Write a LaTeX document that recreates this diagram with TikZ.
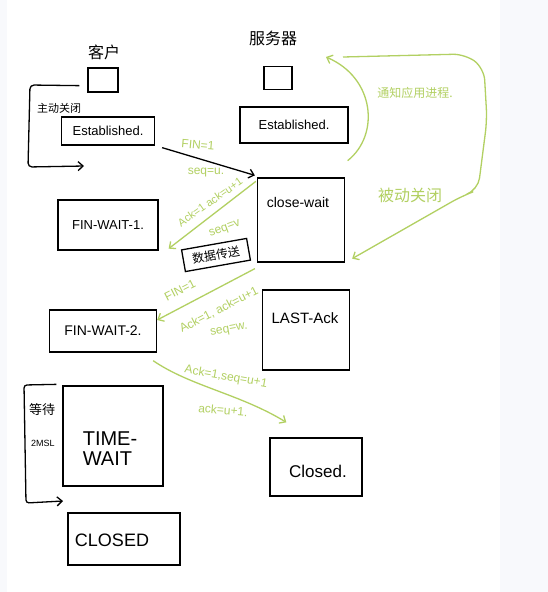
\documentclass[tikz,border=0pt]{standalone}
\usepackage{fontspec}
\setmainfont{Liberation Sans}
\newfontfamily\cjk{Noto Sans CJK SC}
\usetikzlibrary{arrows.meta}
\definecolor{gr}{RGB}{178,208,98}
\definecolor{bgc}{RGB}{248,249,252}
\begin{document}
\begin{tikzpicture}[x=1pt,y=-1pt,
  box/.style={draw=black, line width=1.3pt, inner sep=0pt},
  gline/.style={draw=gr, line width=1.3pt},
  bline/.style={draw=black, line width=1.3pt},
  tip/.style={-{Straight Barb[length=5pt,width=9pt]}},
  glab/.style={text=gr, inner sep=0pt, font=\fontsize{12}{12}\selectfont},
  blab/.style={text=black, inner sep=0pt},
  fs/.style={font=\fontsize{#1}{#1}\selectfont}
]
\useasboundingbox (0,0) rectangle (548,592);
\fill[bgc] (0,0) rectangle (548,592);
\fill[white] (7,0) rectangle (500,592);

% titles
\node[blab, font=\cjk\fontsize{16}{16}\selectfont] (kh) at (104,52) {客户};
\node[blab, font=\cjk\fontsize{16}{16}\selectfont] (fwq) at (273,38) {服务器};

% boxes
\node[box, minimum width=30pt, minimum height=24pt] (cli) at (103,80) {};
\node[box, minimum width=28pt, minimum height=23pt] (srv) at (278,78) {};
\node[box, minimum width=93pt, minimum height=28pt, fs=13] (est1) at (108,131) {Established.};
\node[box, minimum width=108pt, minimum height=36pt, fs=13] (est2) at (294,125) {Established.};
\node[box, minimum width=87pt, minimum height=84pt] (cw) at (301,220) {};
\node[blab, fs=14] (cwt) at (298,202) {close-wait};
\node[box, minimum width=100pt, minimum height=50pt, fs=13] (fw1) at (108,225) {FIN-WAIT-1.};
\node[box, rotate=10, minimum width=66pt, minimum height=22pt, font=\cjk\fontsize{12}{12}\selectfont] (dt) at (216,255) {数据传送};
\node[box, minimum width=87pt, minimum height=80pt] (la) at (306,330) {};
\node[blab, fs=15] (lat) at (305,318) {LAST-Ack};
\node[box, minimum width=107pt, minimum height=42pt, fs=14] (fw2) at (103,331) {FIN-WAIT-2.};
\node[box, minimum width=100pt, minimum height=100pt] (tw) at (113,436) {};
\node[blab, fs=20, align=left] (twt) at (110,449) {TIME-\\WAIT};
\node[box, minimum width=92pt, minimum height=58pt] (cl2) at (316,467) {};
\node[blab, fs=17] (cl2t) at (318,471) {Closed.};
\node[box, minimum width=112pt, minimum height=52pt] (cl1) at (124,539) {};
\node[blab, fs=18] (cl1t) at (112,540) {CLOSED};

% left loops
\node[blab, font=\cjk\fontsize{11}{11}\selectfont] (zd) at (59,108) {主动关闭};
\coordinate (a1end) at (84,166);
\draw[bline, tip, rounded corners=4pt] ([shift={(-8,-7)}]cli.south west) -- (30,85) -- (28,167) -- (a1end);

\node[blab, font=\cjk\fontsize{13}{13}\selectfont] (dd) at (42,410) {等待};
\node[blab, fs=9] (msl) at (43,443) {2MSL};
\coordinate (a2end) at (63,501);
\draw[bline, tip, rounded corners=3pt] ([shift={(-6,-1)}]tw.north west) -- (24,385) -- (26,503) -- (a2end);

% FIN from client
\draw[bline, tip] ([shift={(7,2)}]est1.south east) -- ([shift={(-2,-2)}]cw.north west);
\node[glab, rotate=-5] (l1) at (198,145) {FIN=1};
\node[glab] (l2) at (206,173) {seq=u.};

% ACK from server
\draw[gline, tip] ([shift={(-1,4)}]cw.north west) -- ([shift={(10,-2)}]fw1.south east);
\node[glab, rotate=35, fs=11] (l3) at (210,202) {Ack=1 ack=u+1};
\node[glab, rotate=20] (l4) at (225,229) {seq=v};

% FIN from server
\draw[gline, tip] ([shift={(-2,6)}]cw.south west) -- ([shift={(0,-11)}]fw2.east);
\node[glab, rotate=27] (l5) at (180,290) {FIN=1};
\node[glab, rotate=27] (l6) at (219,310) {Ack=1, ack=u+1};
\node[glab, rotate=10] (l7) at (229,330) {seq=w.};

% ACK from client
\draw[gline, tip] ([shift={(-4,8)}]fw2.south east) .. controls (190,386) and (240,394) .. ([shift={(17,-15)}]cl2.north west);
\node[glab, rotate=-10] (l8) at (226,377) {Ack=1,seq=u+1};
\node[glab, rotate=-5] (l9) at (223,410) {ack=u+1.};

% notify app
\coordinate (nt) at (326,57);
\draw[gline, tip] ([shift={(-1,17)}]est2.south east) .. controls (380,135) and (375,78) .. (nt);
\node[glab, font=\cjk\fontsize{12}{12}\selectfont] (tz) at (415,93) {通知应用进程.};

% passive close loop
\coordinate (ls) at (343,57);
\draw[gline, tip, rounded corners=12pt] (ls) -- (465,54) -- (484,68) -- (487,120) -- (478,190) -- (462,196) -- ([shift={(7,-4)}]cw.south east);
\node[glab, font=\cjk\fontsize{16}{16}\selectfont] (bd) at (410,195) {被动关闭};
\end{tikzpicture}
\end{document}
